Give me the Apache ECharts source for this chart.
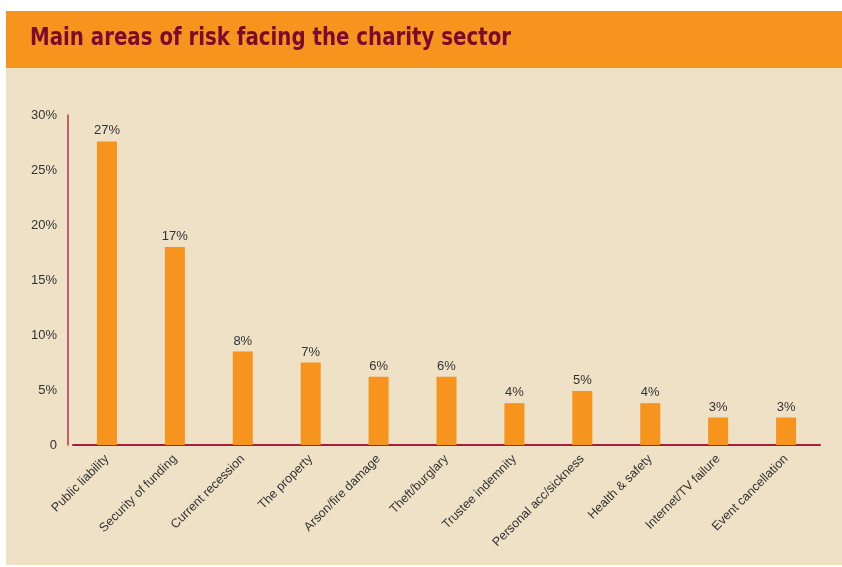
<!DOCTYPE html>
<html>
<head>
<meta charset="utf-8">
<style>
html,body{margin:0;padding:0;background:#fff;}
#chart{width:842px;height:567px;}
</style>
<script src="https://cdn.jsdelivr.net/npm/echarts@6/dist/echarts.min.js"></script>
</head>
<body>
<div id="chart"></div>
<script>
const categories = ["Public liability","Security of funding","Current recession","The property","Arson/fire damage","Theft/burglary","Trustee indemnity","Personal acc/sickness","Health & safety","Internet/TV failure","Event cancellation"];
const values = [27.6, 18.0, 8.5, 7.5, 6.2, 6.2, 3.8, 4.9, 3.8, 2.5, 2.5];
const valueLabels = ["27%","17%","8%","7%","6%","6%","4%","5%","4%","3%","3%"];
const yTicks = [0, 5, 10, 15, 20, 25, 30];
const titleText = "Main areas of risk facing the charity sector";

const chart = echarts.init(document.getElementById('chart'));
chart.setOption({
  animation: false,
  backgroundColor: '#ffffff',
  graphic: [
    {type:'rect', z:-10, shape:{x:6,y:68,width:836,height:497}, style:{fill:'#EFE1C6'}},
    {type:'rect', z:-10, shape:{x:6,y:11,width:836,height:57}, style:{fill:'#F7941D'}},
    {type:'text', x:30, y:38, scaleX:0.88, z:10,
      style:{text:titleText, fill:'#7A0A2E', font:'bold 25px "Liberation Sans Narrow","DejaVu Sans Condensed",sans-serif', verticalAlign:'middle', align:'left'}}
  ],
  grid: {left: 73, right: 22, top: 115, bottom: 122, containLabel: false},
  xAxis: {
    type: 'category',
    data: categories,
    axisLine: {lineStyle:{color:'#A81C3C', width:2}},
    axisTick: {show:false},
    axisLabel: {rotate:45, margin:12, fontSize:12.5, color:'#333', fontFamily:'"Liberation Sans",Arial,sans-serif', interval:0}
  },
  yAxis: {
    type: 'value',
    min: yTicks[0], max: yTicks[yTicks.length-1], interval: 5,
    offset: 5,
    axisLine: {show:true, lineStyle:{color:'#B8334F', width:1.5}},
    axisTick: {show:false},
    splitLine: {show:false},
    axisLabel: {margin:11, fontSize:13, color:'#333', fontFamily:'"Liberation Sans",Arial,sans-serif',
      formatter: v => v === 0 ? '0' : v + '%'}
  },
  series: [{
    type: 'bar',
    data: values,
    barWidth: 20,
    itemStyle: {color:'#F7941D'},
    label: {show:true, position:'top', distance:4, fontSize:13, color:'#333', fontFamily:'"Liberation Sans",Arial,sans-serif',
      formatter: p => valueLabels[p.dataIndex]}
  }]
});
</script>
</body>
</html>
